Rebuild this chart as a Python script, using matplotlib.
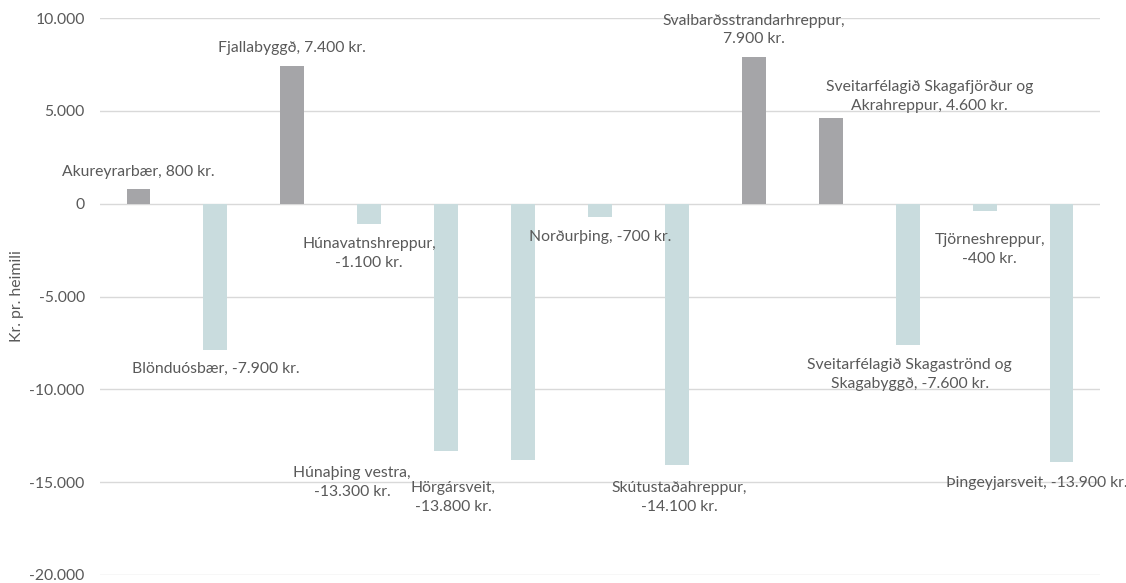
import matplotlib.pyplot as plt
from matplotlib.ticker import FuncFormatter

plt.rcParams["font.family"] = ["Lato", "DejaVu Sans"]

names = [
    "Akureyrarbær", "Blönduósbær", "Fjallabyggð", "Húnavatnshreppur",
    "Húnaþing vestra", "Hörgársveit", "Norðurþing", "Skútustaðahreppur",
    "Svalbarðsstrandarhreppur", "Sveitarfélagið Skagafjörður og\nAkrahreppur",
    "Sveitarfélagið Skagaströnd og\nSkagabyggð", "Tjörneshreppur", "Þingeyjarsveit",
]
values = [800, -7900, 7400, -1100, -13300, -13800, -700, -14100, 7900, 4600, -7600, -400, -13900]

# how each label is broken onto lines ("," keeps it on one line, ",\n" breaks after the name)
label_sep = [", ", ", ", ", ", ",\n", ",\n", ",\n", ", ", ",\n", ",\n", ", ", ", ", ",\n", ", "]
# label offsets from the end of each bar, in pixels (dx, dy)
label_offsets = [(0, 17), (0, -19), (0, 18), (0, -29), (-94, -32), (-70, -38), (0, -20),
                 (2, -32), (0, 27), (99, 22), (2, -30), (5, -38), (-25, -21)]

POS_COLOR = "#A5A5A8"
NEG_COLOR = "#C9DCDE"
TEXT_COLOR = "#595959"
GRID_COLOR = "#D9D9D9"
FS = 11.3


def kr(v: float) -> str:
    return f"{v:,.0f}".replace(",", ".")


fig = plt.figure(figsize=(11.26, 5.83), dpi=100)
ax = fig.add_axes([100 / 1126, 8 / 583, 1000 / 1126, 557 / 583])

x = list(range(len(values)))
colors = [POS_COLOR if v >= 0 else NEG_COLOR for v in values]
ax.bar(x, values, width=0.31, color=colors, zorder=2)

for i, (name, v) in enumerate(zip(names, values)):
    text = f"{name}{label_sep[i]}{kr(v)} kr."
    dx, dy = label_offsets[i]
    ax.annotate(text, xy=(i, v), xytext=(dx, dy), textcoords="offset pixels",
                ha="center", va="center", fontsize=FS, color=TEXT_COLOR,
                linespacing=1.45, annotation_clip=False)

ax.set_xlim(-0.5, len(values) - 0.5)
ax.set_ylim(-20000, 10000)
ax.set_yticks(range(-20000, 10001, 5000))
ax.yaxis.set_major_formatter(FuncFormatter(lambda v, _: kr(v)))
ax.set_xticks([])
ax.tick_params(axis="y", length=0, pad=11, labelsize=FS, labelcolor=TEXT_COLOR)
ax.grid(axis="y", color=GRID_COLOR, linewidth=1, zorder=0)
for spine in ax.spines.values():
    spine.set_visible(False)

fig.text(17 / 1126, 1 - 296 / 583, "Kr. pr. heimili", rotation=90, ha="center", va="center",
         fontsize=FS, color=TEXT_COLOR)

fig.savefig("out.png", dpi=100)
